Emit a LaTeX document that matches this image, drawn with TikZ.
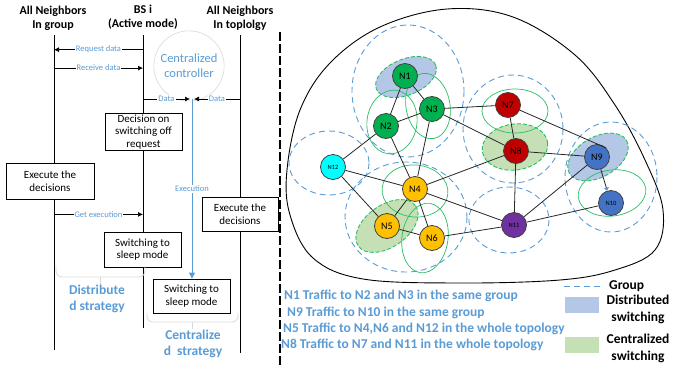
\documentclass[tikz,border=0pt]{standalone}
\usepackage{fontspec}
\setmainfont{Carlito}
\usetikzlibrary{calc, positioning, arrows.meta}

\definecolor{txtblue}{RGB}{91,155,213}
\definecolor{ringgreen}{RGB}{40,190,100}
\definecolor{distfill}{RGB}{180,199,231}
\definecolor{centfill}{RGB}{197,224,180}
\definecolor{ngreen}{RGB}{0,176,80}
\definecolor{nred}{RGB}{192,0,0}
\definecolor{nblue}{RGB}{68,114,196}
\definecolor{ncyan}{RGB}{0,255,255}
\definecolor{nyellow}{RGB}{255,192,0}
\definecolor{npurple}{RGB}{112,48,160}

\tikzset{
  hdr/.style={font=\fontsize{12}{14}\selectfont\bfseries, align=center},
  stepbox/.style={draw, line width=0.8pt, fill=white, align=center, font=\fontsize{11}{12.5}\selectfont},
  msg/.style={-{Latex[length=5pt,width=5pt]}, line width=0.7pt},
  msglbl/.style={fill=white, inner sep=1pt, text=txtblue, font=\fontsize{8.5}{9}\selectfont},
  brc/.style={draw=black!15, line width=0.8pt, rounded corners=6pt},
  strat/.style={text=txtblue, font=\fontsize{13.5}{16.5}\selectfont\bfseries, align=center},
  grp/.style={draw=txtblue, line width=0.9pt, dash pattern=on 6pt off 4pt},
  ring/.style={draw=ringgreen, line width=0.7pt},
  dsw/.style={fill=distfill, draw=ringgreen, line width=0.9pt, dash pattern=on 4pt off 2pt},
  csw/.style={fill=centfill, draw=ringgreen, line width=0.9pt, dash pattern=on 4pt off 2pt},
  nd/.style={circle, draw=black!75, line width=0.8pt, minimum size=25pt, inner sep=0pt, font=\fontsize{10}{11}\selectfont},
  sml/.style={font=\fontsize{6.5}{7}\selectfont},
  lnk/.style={draw=black!85, line width=0.8pt},
  note/.style={anchor=west, text=txtblue, font=\fontsize{13.5}{15}\selectfont\bfseries, inner sep=0pt},
  lgd/.style={anchor=center, font=\fontsize{13.5}{17}\selectfont\bfseries, align=center, inner sep=0pt}
}

\begin{document}
\begin{tikzpicture}[x=1pt, y=-1pt]
  \useasboundingbox (0,0) rectangle (697,365);

  % headers
  \node[hdr] (hd-grp) at (53,18) {All Neighbors\\In group};
  \node[hdr] (hd-bs)  at (143,17) {BS i\\(Active mode)};
  \node[hdr] (hd-top) at (240,18) {All Neighbors\\In toplolgy};

  % lifelines
  \coordinate (grp-top) at (54,35);
  \coordinate (grp-bot) at (54,350);
  \coordinate (bs-top)  at (143,35);
  \coordinate (bs-bot)  at (143,328);
  \coordinate (top-top) at (240,35);
  \coordinate (top-bot) at (240,353);
  \draw[line width=0.8pt] (grp-top) -- (grp-bot);
  \draw[line width=0.8pt] (bs-top) -- (bs-bot);
  \draw[line width=0.8pt] (top-top) -- (top-bot);

  % centralized controller
  \node[circle, draw=black!15, line width=0.6pt, minimum size=68pt, text=txtblue,
        align=center, font=\fontsize{12.5}{15}\selectfont] (ctrl) at (189,66) {Centralized\\controller};

  % messages
  \draw[msg] ($(bs-top)!0.05!(bs-bot)$) coordinate (req-a) -- node[msglbl] {Request data} (req-a -| grp-top);
  \draw[msg] ($(grp-top)!0.105!(grp-bot)$) coordinate (rcv-a) -- node[msglbl] {Receive data} (rcv-a -| bs-top);
  \coordinate (meet) at (192,99);
  \draw[msg] (meet -| bs-top) -- node[msglbl] {Data} ($(meet)+(-2,0)$);
  \draw[msg] (meet -| top-top) -- node[msglbl] {Data} ($(meet)+(2,0)$);

  % boxes
  \node[stepbox, minimum width=77pt, minimum height=34pt, inner sep=1pt] (decide) at (143.5,132) {Decision on\\switching off\\request};
  \node[stepbox, minimum width=88pt, minimum height=36pt] (exec-grp) at (50,181) {Execute the\\decisions};
  \node[stepbox, minimum width=77pt, minimum height=35pt] (sleep-dist) at (142.5,249.5) {Switching to\\sleep mode};
  \node[stepbox, minimum width=76pt, minimum height=34pt] (exec-top) at (240,214) {Execute the\\decisions};
  \node[stepbox, minimum width=77pt, minimum height=34pt] (sleep-cent) at (191.5,296) {Switching to\\sleep mode};

  \draw[msg] (exec-grp.south -| grp-top) ++(0,15) coordinate (get-a) -- node[msglbl] {Get execution} (get-a -| bs-top);
  \draw[txtblue, line width=0.8pt, -{Triangle[length=6pt,width=6pt]}] (meet) -- node[msglbl, pos=0.5] {Execution} (meet |- sleep-cent.north);

  % strategy braces
  \draw[brc] (56,266) |- (100,277) -| (145,266);
  \draw[brc] (100,277) -- (100,285);
  \node[strat] (dist-lbl) at (97,299) {Distribute\\d strategy};
  \draw[brc] (147,313) |- (192,322) -| (238,313);
  \draw[brc] (192,322) -- (192,329);
  \node[strat] (cent-lbl) at (193,344) {Centralize\\d\ \ strategy};

  % separator
  \draw[line width=1.2pt, dash pattern=on 9pt off 3pt] (280,32) -- (280,365);

  % whole topology
  \draw[line width=0.9pt] plot[smooth cycle, tension=0.6] coordinates {
    (447,9) (513,17) (575,55) (615,105) (645,160) (663,210) (655,250) (615,270)
    (560,280) (460,283) (363,279) (313,258) (290,215) (287,170) (300,110) (330,63) (380,27)};

  % groups
  \draw[grp] (408,91) ellipse [x radius=56, y radius=66];
  \draw[grp] (513,129) ellipse [x radius=50, y radius=54];
  \draw[grp] (611,177) ellipse [x radius=46, y radius=55];
  \draw[grp] (329,163) ellipse [x radius=40, y radius=32];
  \draw[grp] (406,217) ellipse [x radius=61, y radius=55];
  \draw[grp] (509,220) ellipse [x radius=40, y radius=33];

  % switching areas
  \draw[dsw, rotate around={22:(406,77)}] (406,77) ellipse [x radius=32, y radius=18];
  \draw[dsw, rotate around={30:(598,157)}] (598,157) ellipse [x radius=33, y radius=20];
  \draw[csw, rotate around={8:(515,147)}] (515,147) ellipse [x radius=33, y radius=23];
  \draw[csw, rotate around={35:(387,226)}] (387,226) ellipse [x radius=35, y radius=21];

  % traffic rings
  \draw[ring, rotate around={-8:(392,122)}] (392,122) ellipse [x radius=25, y radius=32];
  \draw[ring, rotate around={10:(428,106)}] (428,106) ellipse [x radius=22, y radius=33];
  \draw[ring] (515,111) ellipse [x radius=33, y radius=22];
  \draw[ring, rotate around={-5:(415,191)}] (415,191) ellipse [x radius=33, y radius=26];
  \draw[ring, rotate around={-8:(425,238)}] (425,238) ellipse [x radius=23, y radius=35];
  \draw[ring, rotate around={8:(612,193)}] (612,193) ellipse [x radius=34, y radius=23];

  % base stations
  \node[nd, fill=ngreen] (n1) at (405,76) {N1};
  \node[nd, fill=ngreen] (n2) at (386,126) {N2};
  \node[nd, fill=ngreen] (n3) at (432,109) {N3};
  \node[nd, fill=nred] (n7) at (508,105) {N7};
  \node[nd, fill=nred] (n8) at (516,151) {N8};
  \node[nd, fill=nblue] (n9) at (597,157) {N9};
  \node[nd, sml, fill=ncyan] (n12) at (333,167) {N12};
  \node[nd, fill=nyellow] (n4) at (415,189) {N4};
  \node[nd, fill=nyellow] (n5) at (387,226) {N5};
  \node[nd, fill=nyellow] (n6) at (432,238) {N6};
  \node[nd, sml, fill=npurple] (n11) at (514,225) {N11};
  \node[nd, sml, fill=nblue] (n10) at (611,203) {N10};

  % links
  \foreach \a/\b in {n1/n2, n1/n3, n2/n3, n3/n7, n3/n8, n3/n4, n2/n4, n2/n12,
                     n7/n8, n8/n9, n8/n4, n8/n11, n12/n4, n12/n5, n4/n5,
                     n4/n6, n4/n11, n5/n6, n6/n11, n9/n11, n10/n11}
    \draw[lnk] (\a) -- (\b);
  \draw[lnk] (n7) -- (n9.north east);
  \draw[lnk, -{Triangle[length=3pt, width=5pt, color=txtblue]}] (n9) -- (n10);

  % legend
  \coordinate (grp-l) at (564,286);
  \draw[grp] (grp-l) -- ++(37,0) coordinate (grp-r);
  \node[lgd, anchor=west] (lg-grp) at ($(grp-r)+(8,0)$) {Group};
  \node[fill=distfill, minimum width=34pt, minimum height=16pt, inner sep=0pt] (lg-dist) at (582,305) {};
  \node[lgd] (lg-dist-t) at (638,309) {Distributed\\switching};
  \node[fill=centfill, minimum width=34pt, minimum height=16pt, inner sep=0pt] (lg-cent) at (582,345) {};
  \node[lgd] (lg-cent-t) at (638,348) {Centralized\\switching};

  % traffic notes
  \node[note] (tx1) at (284,296) {N1 Traffic to N2 and N3 in the same group};
  \node[note] (tx2) at (287,313) {N9 Traffic to N10 in the same group};
  \node[note] (tx3) at (283,329) {N5 Traffic to N4,N6 and N12 in the whole topology};
  \node[note] (tx4) at (281,345) {N8 Traffic to N7 and N11 in the whole topology};
\end{tikzpicture}
\end{document}
